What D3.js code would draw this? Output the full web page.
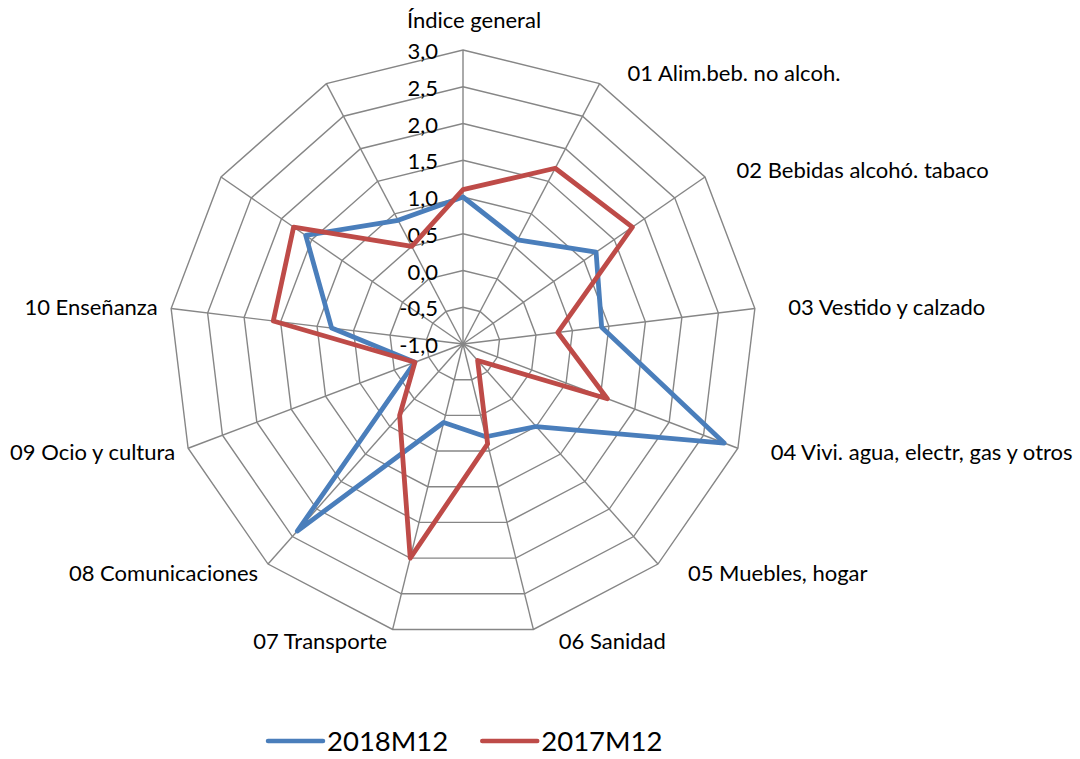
<!DOCTYPE html>
<html>
<head>
<meta charset="utf-8">
<script src="https://cdn.jsdelivr.net/npm/d3@7"></script>
<style>
  body { margin: 0; background: #fff; }
  svg { display: block; font-family: Lato, "Open Sans", sans-serif; }
</style>
</head>
<body>
<svg id="chart" width="1080" height="759"></svg>
<script>

// categories of the radar (the last two have no label in the original)
var categories = ["Índice general", "01 Alim.beb. no alcoh.", "02 Bebidas alcohó. tabaco",
                  "03 Vestido y calzado", "04 Vivi. agua, electr, gas y otros", "05 Muebles, hogar",
                  "06 Sanidad", "07 Transporte", "08 Comunicaciones", "09 Ocio y cultura",
                  "10 Enseñanza", "", ""];

var values2018 = [1.0, 0.6, 1.2, 0.9, 2.8, 0.5, 0.3, 0.1, 2.4, -0.3, 0.8, 1.6, 0.9];
var values2017 = [1.1, 1.7, 1.8, 0.3, 1.1, -0.7, 0.4, 2.0, 0.3, -0.3, 1.6, 1.8, 0.5];

var seriesNames = ["2018M12", "2017M12"];
var seriesColors = ["#4a7ebb", "#be4b48"];
var tickValues = [-1, -0.5, 0, 0.5, 1, 1.5, 2, 2.5, 3];

var series = [
  { name: seriesNames[0], color: seriesColors[0], values: values2018 },
  { name: seriesNames[1], color: seriesColors[1], values: values2017 }
];

var svg = d3.select("#chart"),
    cx = 463, cy = 344, R = 294,
    step = 2 * Math.PI / categories.length;

var r = d3.scaleLinear().domain([-1, 3]).range([0, R]);

var fmt = d3.formatLocale({ decimal: ",", thousands: ".", grouping: [3], currency: ["", ""], minus: "-" }).format(".1f");

var g = svg.append("g").attr("transform", "translate(" + cx + "," + cy + ")");

var ring = d3.lineRadial()
  .angle(function(d, i) { return i * step; })
  .radius(function(d) { return r(d); })
  .curve(d3.curveLinearClosed);

// grid rings
g.append("g").attr("class", "grid")
  .selectAll("path")
  .data(tickValues.filter(function(t) { return t > -1; }))
  .join("path")
  .attr("d", function(t) { return ring(categories.map(function() { return t; })); })
  .attr("fill", "none")
  .attr("stroke", "#868686")
  .attr("stroke-width", 1.4);

// spokes
g.append("g").attr("class", "spokes")
  .selectAll("line")
  .data(categories)
  .join("line")
  .attr("x1", 0).attr("y1", 0)
  .attr("x2", function(d, i) { return r(3) * Math.sin(i * step); })
  .attr("y2", function(d, i) { return -r(3) * Math.cos(i * step); })
  .attr("stroke", "#868686")
  .attr("stroke-width", 1.4);

// value labels along the vertical axis
g.append("g").attr("class", "ticks")
  .selectAll("text")
  .data(tickValues)
  .join("text")
  .attr("x", -25)
  .attr("y", function(t) { return -r(t) + 1.5; })
  .attr("dy", "0.35em")
  .attr("text-anchor", "end")
  .attr("font-size", 22)
  .attr("fill", "#000")
  .text(function(t) { return fmt(t); });

// category labels
g.append("g").attr("class", "labels")
  .selectAll("text")
  .data(categories)
  .join("text")
  .each(function(d, i) {
    var a = i * step, s = Math.sin(a), c = Math.cos(a),
        vx = r(3) * s, vy = -r(3) * c,
        t = d3.select(this);
    if (Math.abs(s) < 0.1) {
      t.attr("x", vx + 11).attr("y", vy - 30).attr("text-anchor", "middle");
    } else {
      var sign = s > 0 ? 1 : -1;
      t.attr("x", vx + sign * (13 + 10.5 * Math.abs(s)) + 10)
       .attr("y", vy - 12 * c)
       .attr("text-anchor", s > 0 ? "start" : "end");
    }
  })
  .attr("dy", "0.35em")
  .attr("font-size", 22)
  .attr("fill", "#000")
  .text(function(d) { return d; });

// series
var line = d3.lineRadial()
  .angle(function(d, i) { return i * step; })
  .radius(function(d) { return r(d); })
  .curve(d3.curveLinearClosed);

g.append("g").attr("class", "series")
  .selectAll("path")
  .data(series)
  .join("path")
  .attr("d", function(d) { return line(d.values); })
  .attr("fill", "none")
  .attr("stroke", function(d) { return d.color; })
  .attr("stroke-width", 4.8)
  .attr("stroke-linejoin", "round");

// legend
var legend = svg.append("g").attr("class", "legend"),
    lx = 268, ly = 741;

series.forEach(function(s) {
  legend.append("line")
    .attr("x1", lx).attr("x2", lx + 55)
    .attr("y1", ly).attr("y2", ly)
    .attr("stroke", s.color)
    .attr("stroke-width", 4.5)
    .attr("stroke-linecap", "round");
  var txt = legend.append("text")
    .attr("x", lx + 59)
    .attr("y", ly)
    .attr("dy", "0.35em")
    .attr("font-size", 27.5)
    .attr("fill", "#000")
    .text(s.name);
  lx = lx + 59 + txt.node().getComputedTextLength() + 34;
});

</script>
</body>
</html>
